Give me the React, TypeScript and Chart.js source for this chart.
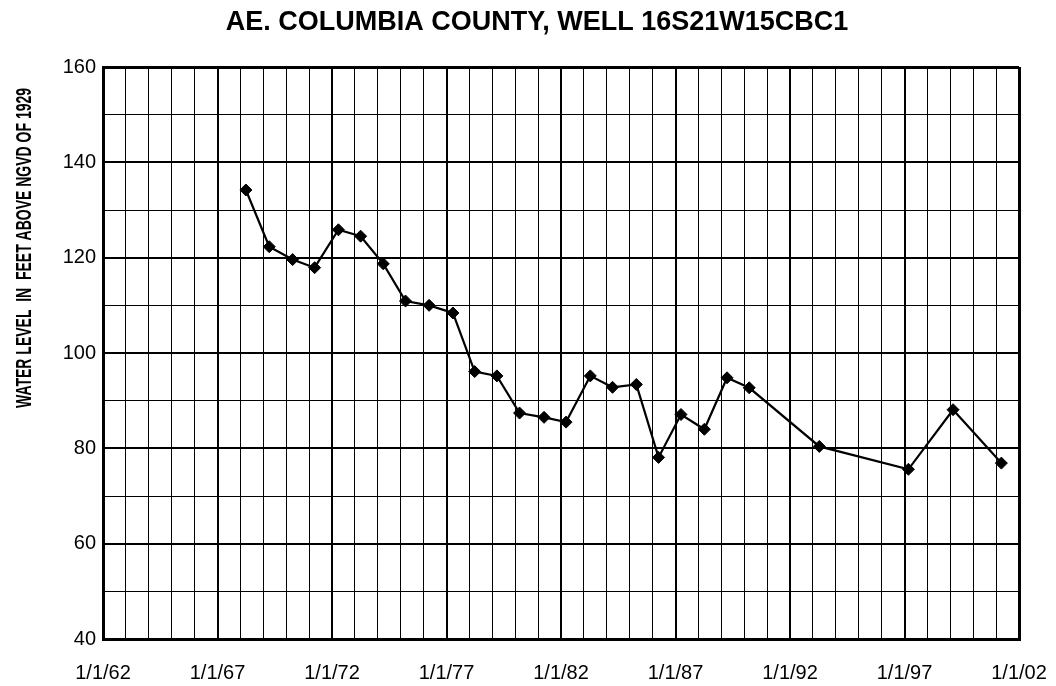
import React, { useEffect, useRef } from "react";
import { Chart, registerables } from "chart.js";

Chart.register(...registerables);

const TITLE = "AE. COLUMBIA COUNTY, WELL 16S21W15CBC1";
const Y_TITLE = "WATER LEVEL  IN  FEET ABOVE NGVD OF 1929";

// decimal year of each measurement
const years = [
  1968.24, 1969.26, 1970.28, 1971.24, 1972.28, 1973.25, 1974.24, 1975.21, 1976.24,
  1977.28, 1978.23, 1979.2, 1980.19, 1981.26, 1982.22, 1983.28, 1984.25, 1985.29,
  1986.26, 1987.24, 1988.26, 1989.25, 1990.22, 1993.28, 1997.17, 1999.12, 2001.23,
];
// water level, feet above NGVD of 1929
const levels = [
  134.2, 122.3, 119.6, 117.9, 125.85, 124.5, 118.7, 110.9, 110.0,
  108.4, 96.1, 95.2, 87.4, 86.5, 85.5, 95.2, 92.8, 93.4,
  78.1, 87.1, 84.0, 94.8, 92.7, 80.4, 75.6, 88.1, 76.9,
];

const xMin = 1962;
const xMax = 2002;
const xLabelYears = [1962, 1967, 1972, 1977, 1982, 1987, 1992, 1997, 2002];
const xLabels = ["1/1/62", "1/1/67", "1/1/72", "1/1/77", "1/1/82", "1/1/87", "1/1/92", "1/1/97", "1/1/02"];
const yMin = 40;
const yMax = 160;
const yLabels = [40, 60, 80, 100, 120, 140, 160];

const FONT = "'Liberation Sans', Arial, sans-serif";

const textPlugin = {
  id: "customTexts",
  afterDraw(chart: any) {
    const ctx = chart.ctx;
    ctx.save();
    ctx.fillStyle = "#000";
    ctx.font = `bold 27px ${FONT}`;
    ctx.textAlign = "center";
    ctx.textBaseline = "alphabetic";
    ctx.fillText(TITLE, 537, 30);
    ctx.restore();

    ctx.save();
    ctx.fillStyle = "#000";
    ctx.font = `bold 22px ${FONT}`;
    const w = ctx.measureText(Y_TITLE).width;
    const target = 320;
    ctx.translate(25, 248);
    ctx.rotate(-Math.PI / 2);
    ctx.scale(target / w, 1);
    ctx.textAlign = "center";
    ctx.textBaseline = "middle";
    ctx.fillText(Y_TITLE, 0, 0);
    ctx.restore();
  },
};

export default function App() {
  const ref = useRef<HTMLCanvasElement>(null);
  useEffect(() => {
    if (!ref.current) return;
    const data = years.map((x, i) => ({ x, y: levels[i] }));
    const chart = new Chart(ref.current, {
      type: "scatter",
      data: {
        datasets: [
          {
            data,
            showLine: true,
            borderColor: "#000",
            backgroundColor: "#000",
            borderWidth: 2.2,
            pointStyle: "rectRot",
            pointRadius: 6,
            pointBorderWidth: 1,
            pointBorderColor: "#000",
            pointBackgroundColor: "#000",
          },
        ],
      },
      options: {
        animation: false,
        responsive: true,
        maintainAspectRatio: false,
        layout: { padding: { top: 67, right: 37, left: 0, bottom: 0 } },
        plugins: { legend: { display: false }, title: { display: false }, tooltip: { enabled: false } },
        scales: {
          x: {
            type: "linear",
            min: xMin,
            max: xMax,
            afterFit: (s: any) => {
              s.height = 47;
              s.paddingLeft = 0;
              s.paddingRight = 0;
            },
            afterBuildTicks: (s: any) => {
              const t = [];
              for (let v = xMin; v <= xMax; v++) t.push({ value: v });
              s.ticks = t;
            },
            ticks: {
              autoSkip: false,
              maxRotation: 0,
              minRotation: 0,
              padding: 22,
              color: "#000",
              font: { family: FONT, size: 20 },
              callback: (v: any) => {
                const i = xLabelYears.indexOf(Number(v));
                return i >= 0 ? xLabels[i] : "";
              },
            },
            grid: {
              drawTicks: false,
              color: "#000",
              lineWidth: (c: any) => {
                const v = c.tick ? c.tick.value : 0;
                if (v === xMax || v === xMin) return 3;
                return (v - xMin) % 5 === 0 ? 2 : 1;
              },
            },
            border: { display: true, color: "#000", width: 3 },
          },
          y: {
            min: yMin,
            max: yMax,
            afterFit: (s: any) => {
              s.width = 103;
              s.paddingTop = 0;
              s.paddingBottom = 0;
            },
            ticks: {
              stepSize: 10,
              padding: 7,
              color: "#000",
              font: { family: FONT, size: 20 },
              callback: (v: any) => (yLabels.indexOf(Number(v)) >= 0 ? String(v) : ""),
            },
            grid: {
              drawTicks: false,
              color: "#000",
              lineWidth: (c: any) => {
                const v = c.tick ? c.tick.value : 0;
                if (v === yMax || v === yMin) return 3;
                return v % 20 === 0 ? 2 : 1;
              },
            },
            border: { display: true, color: "#000", width: 3 },
          },
        },
      },
      plugins: [textPlugin],
    });
    return () => chart.destroy();
  }, []);
  return (
    <div style={{ position: "fixed", left: 0, top: 0, width: 1056, height: 686, background: "#fff" }}>
      <canvas ref={ref} />
    </div>
  );
}
